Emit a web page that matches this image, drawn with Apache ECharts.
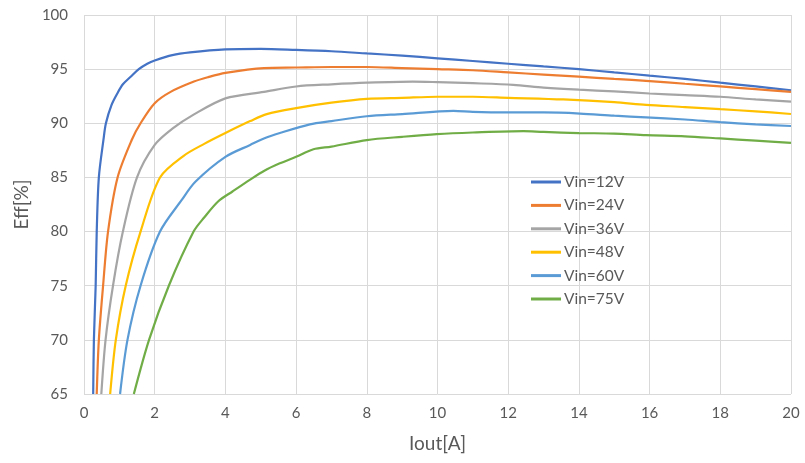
<!DOCTYPE html>
<html>
<head>
<meta charset="utf-8">
<script src="https://cdn.jsdelivr.net/npm/echarts@6/dist/echarts.min.js"></script>
<style>html,body{margin:0;padding:0;background:#fff;}#c{width:805px;height:463px;}</style>
</head>
<body>
<div id="c"></div>
<script>
const seriesNames = ['Vin=12V', 'Vin=24V', 'Vin=36V', 'Vin=48V', 'Vin=60V', 'Vin=75V'];
const seriesColors = ['#4472C4', '#ED7D31', '#A5A5A5', '#FFC000', '#5B9BD5', '#70AD47'];

const iout12 = [0.26, 0.28, 0.33, 0.36, 0.42, 0.55, 0.62, 0.78, 0.95, 1.1, 1.32, 1.55, 1.79, 2.0, 2.5, 3.0, 4.0, 5.0, 6.0, 7.0, 8.0, 9.0, 10.0, 11.0, 12.0, 13.0, 14.0, 15.0, 16.0, 17.0, 18.0, 19.0, 20.0];
const eff12  = [65, 70, 75, 80, 85, 88.46, 90, 91.7, 92.8, 93.6, 94.3, 95.0, 95.5, 95.8, 96.3, 96.55, 96.83, 96.88, 96.78, 96.65, 96.45, 96.25, 96.0, 95.75, 95.5, 95.25, 95.0, 94.7, 94.4, 94.1, 93.75, 93.4, 93.05];

const iout24 = [0.36, 0.42, 0.54, 0.68, 0.95, 1.35, 1.6, 2.0, 2.45, 3.11, 3.5, 4.0, 5.09, 6.0, 7.0, 8.0, 9.0, 10.0, 11.0, 12.0, 13.0, 14.0, 15.0, 16.0, 17.0, 18.0, 19.0, 20.0];
const eff24  = [65, 70, 75, 80, 85, 88.46, 90.0, 91.85, 92.9, 93.85, 94.25, 94.65, 95.1, 95.15, 95.2, 95.2, 95.1, 95.0, 94.9, 94.7, 94.5, 94.3, 94.1, 93.9, 93.65, 93.4, 93.15, 92.9];

const iout36 = [0.49, 0.61, 0.82, 1.1, 1.5, 2.0, 2.5, 3.1, 4.0, 5.09, 6.0, 7.0, 8.0, 9.3, 10.0, 11.0, 12.14, 13.0, 14.0, 15.0, 16.0, 17.0, 18.0, 19.0, 20.0];
const eff36  = [65, 70, 75, 80, 85, 88.0, 89.5, 90.8, 92.3, 92.9, 93.4, 93.6, 93.75, 93.85, 93.8, 93.7, 93.55, 93.3, 93.1, 92.95, 92.75, 92.6, 92.45, 92.2, 92.0];

const iout48 = [0.74, 0.9, 1.18, 1.6, 2.15, 2.82, 3.4, 4.0, 4.7, 5.17, 6.0, 7.0, 8.0, 9.0, 10.0, 11.0, 12.0, 13.56, 15.0, 15.9, 17.0, 18.0, 19.0, 20.0];
const eff48  = [65, 70, 75, 80, 85, 87.0, 88.1, 89.1, 90.2, 90.85, 91.4, 91.9, 92.25, 92.35, 92.45, 92.45, 92.35, 92.2, 91.95, 91.7, 91.5, 91.3, 91.1, 90.86];

const iout60 = [1.02, 1.23, 1.6, 2.15, 2.76, 3.15, 4.0, 4.7, 5.09, 5.54, 6.39, 7.0, 8.0, 9.0, 10.45, 11.0, 12.0, 13.0, 14.03, 15.0, 15.9, 17.0, 18.0, 19.0, 20.0];
const eff60  = [65, 70, 75, 80, 82.9, 84.6, 86.9, 88.0, 88.6, 89.1, 89.9, 90.2, 90.65, 90.85, 91.15, 91.05, 91.0, 91.0, 90.9, 90.7, 90.55, 90.35, 90.1, 89.9, 89.75];

const iout75 = [1.41, 1.84, 2.4, 3.1, 3.4, 3.8, 4.2, 4.7, 5.09, 5.54, 6.0, 6.49, 7.0, 8.0, 9.0, 9.98, 11.0, 12.43, 13.0, 14.0, 15.0, 15.9, 17.0, 18.0, 19.0, 20.0];
const eff75  = [65, 70, 75, 80, 81.3, 82.8, 83.7, 84.8, 85.6, 86.3, 86.9, 87.6, 87.85, 88.45, 88.75, 89.0, 89.15, 89.28, 89.2, 89.1, 89.05, 88.9, 88.8, 88.6, 88.4, 88.2];

const xTicks = [0, 2, 4, 6, 8, 10, 12, 14, 16, 18, 20];
const yTicks = [65, 70, 75, 80, 85, 90, 95, 100];

const allX = [iout12, iout24, iout36, iout48, iout60, iout75];
const allY = [eff12, eff24, eff36, eff48, eff60, eff75];

const FONT = 'Lato, "Open Sans", sans-serif';
const chart = echarts.init(document.getElementById('c'));
chart.setOption({
  animation: false,
  backgroundColor: '#ffffff',
  grid: { left: 84, right: 14, top: 15, bottom: 69, containLabel: false },
  legend: {
    orient: 'vertical', left: 526, top: 169,
    itemWidth: 30, itemHeight: 3, itemGap: 7.4,
    icon: 'rect',
    data: seriesNames,
    textStyle: { color: '#595959', fontSize: 15.5, fontFamily: FONT, lineHeight: 16, padding: [0, 0, 0, -2] }
  },
  xAxis: {
    type: 'value', min: xTicks[0], max: xTicks[xTicks.length - 1], interval: 2,
    name: 'Iout[A]', nameLocation: 'middle', nameGap: 40,
    nameTextStyle: { color: '#595959', fontSize: 19, fontFamily: FONT },
    axisLine: { show: false }, axisTick: { show: false },
    axisLabel: { color: '#595959', fontSize: 15, fontFamily: FONT, margin: 12 },
    splitLine: { show: true, lineStyle: { color: '#d9d9d9', width: 1 } }
  },
  yAxis: {
    type: 'value', min: yTicks[0], max: yTicks[yTicks.length - 1], interval: 5,
    name: 'Eff[%]', nameLocation: 'middle', nameGap: 50, nameRotate: 90,
    nameTextStyle: { color: '#595959', fontSize: 19, fontFamily: FONT },
    axisLine: { show: false }, axisTick: { show: false },
    axisLabel: { color: '#595959', fontSize: 15, fontFamily: FONT, margin: 16 },
    splitLine: { show: true, lineStyle: { color: '#d9d9d9', width: 1 } }
  },
  series: seriesNames.map((n, i) => ({
    name: n, type: 'line', symbol: 'none', smooth: 0.3,
    lineStyle: { color: seriesColors[i], width: 2.2 },
    itemStyle: { color: seriesColors[i] },
    data: allX[i].map((x, k) => [x, allY[i][k]])
  }))
});
</script>
</body>
</html>
